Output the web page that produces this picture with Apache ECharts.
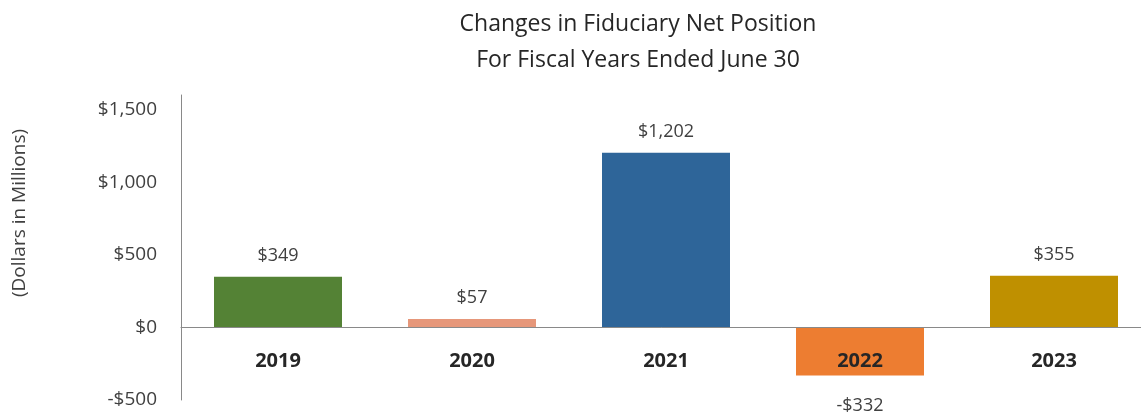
<!DOCTYPE html>
<html>
<head>
<meta charset="utf-8">
<script src="https://cdn.jsdelivr.net/npm/echarts@6/dist/echarts.min.js"></script>
<style>
html,body{margin:0;padding:0;background:#fff;}
#chart{width:1141px;height:416px;}
</style>
</head>
<body>
<div id="chart"></div>
<script>
var categories = ['2019', '2020', '2021', '2022', '2023'];
var values = [349, 57, 1202, -332, 355];
var barColors = ['#548235', '#E6977A', '#2E6599', '#ED7D31', '#BF9000'];
var yTicks = [-500, 0, 500, 1000, 1500];
var titleLines = ['Changes in Fiduciary Net Position', 'For Fiscal Years Ended June 30'];
var yTitle = '(Dollars in Millions)';

function money(v) {
  var s = Math.abs(v).toString().replace(/\B(?=(\d{3})+(?!\d))/g, ',');
  return (v < 0 ? '-$' : '$') + s;
}

var FONT = '"Open Sans", Lato, sans-serif';
var Y_MIN = yTicks[0], Y_MAX = 1600;
var GRID_TOP = 95, GRID_BOTTOM = 16, H = 416;
var plotH = H - GRID_TOP - GRID_BOTTOM;
var zeroOffset = -plotH * (0 - Y_MIN) / (Y_MAX - Y_MIN);

var chart = echarts.init(document.getElementById('chart'));
chart.setOption({
  animation: false,
  textStyle: { fontFamily: FONT },
  title: {
    text: titleLines.join('\n'),
    left: 633,
    top: 1,
    textAlign: 'center',
    textStyle: { fontFamily: FONT, fontSize: 23, fontWeight: 'normal', color: '#262626', lineHeight: 36 }
  },
  graphic: [{
    type: 'text',
    x: 20, y: 213,
    rotation: Math.PI / 2,
    style: { text: yTitle, fontFamily: FONT, fontSize: 19, fill: '#404040', textAlign: 'center', textVerticalAlign: 'middle' }
  }],
  grid: { left: 181, top: GRID_TOP, width: 970, bottom: GRID_BOTTOM, containLabel: false, outerBoundsMode: 'none' },
  xAxis: [{
    type: 'category',
    data: categories,
    axisLine: { onZero: true, lineStyle: { color: '#898989', width: 1 } },
    axisTick: { show: false },
    axisLabel: { show: false },
    z: 10
  }, {
    type: 'category',
    data: categories,
    position: 'bottom',
    offset: zeroOffset,
    axisLine: { show: false, onZero: false },
    axisTick: { show: false },
    axisLabel: { margin: 24, fontSize: 20, fontWeight: 'bold', color: '#262626', fontFamily: FONT },
    z: 10
  }],
  yAxis: {
    type: 'value',
    min: Y_MIN,
    max: Y_MAX,
    interval: 500,
    splitLine: { show: false },
    axisLine: { show: true, lineStyle: { color: '#898989', width: 1 } },
    axisTick: { show: false },
    axisLabel: {
      margin: 24, fontSize: 19, color: '#404040', fontFamily: FONT,
      showMaxLabel: false,
      formatter: function (v) { return yTicks.indexOf(v) >= 0 ? money(v) : ''; }
    }
  },
  series: [{
    type: 'bar',
    barWidth: 128,
    data: values.map(function (v, i) {
      return {
        value: v,
        itemStyle: { color: barColors[i] },
        label: { position: v < 0 ? 'bottom' : 'top', distance: v < 0 ? 21 : 12 }
      };
    }),
    label: {
      show: true,
      fontSize: 18, color: '#404040', fontFamily: FONT,
      formatter: function (p) { return money(p.value); }
    }
  }]
});
</script>
</body>
</html>
